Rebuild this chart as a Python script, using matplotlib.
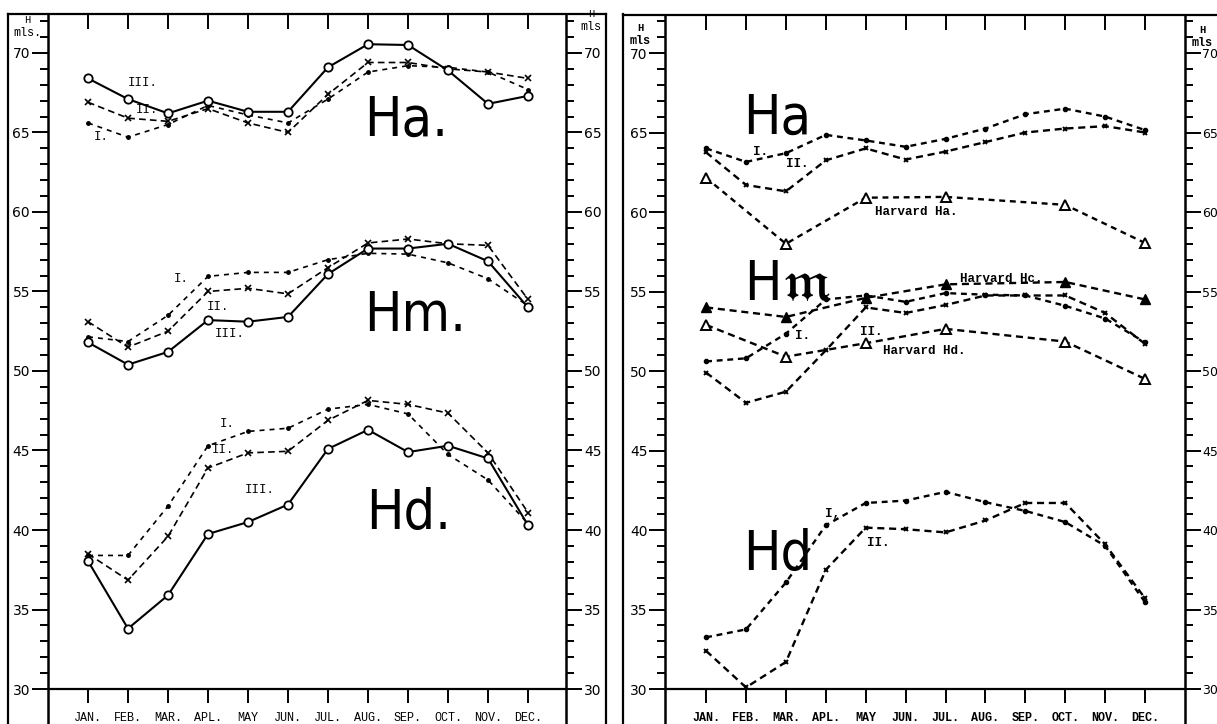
import numpy as np
import matplotlib
matplotlib.use("Agg")
import matplotlib.pyplot as plt
from matplotlib.lines import Line2D

nan = np.nan
months = ["JAN.", "FEB.", "MAR.", "APL.", "MAY", "JUN.", "JUL.", "AUG.", "SEP.", "OCT.", "NOV.", "DEC."]

# left chart: three series (I, II, III) for Ha, Hm, Hd
ha_I = [65.6, 64.7, 65.5, 66.7, 66.1, 65.6, 67.1, 68.8, 69.2, 69.1, 68.8, 67.7]
ha_II = [66.9, 65.9, 65.7, 66.5, 65.6, 65.0, 67.4, 69.4, 69.4, 69.0, 68.8, 68.4]
ha_III = [68.4, 67.1, 66.2, 67.0, 66.3, 66.3, 69.1, 70.55, 70.5, 68.9, 66.8, 67.3]

hm_I = [52.15, 51.85, 53.5, 55.95, 56.2, 56.2, 57.0, 57.4, 57.35, 56.8, 55.8, 54.1]
hm_II = [53.1, 51.5, 52.5, 55.0, 55.2, 54.85, 56.5, 58.05, 58.3, 58.0, 57.9, 54.5]
hm_III = [51.8, 50.4, 51.2, 53.2, 53.1, 53.4, 56.1, 57.7, 57.7, 58.0, 56.9, 54.0]

hd_I = [38.4, 38.4, 41.5, 45.3, 46.2, 46.4, 47.6, 47.9, 47.3, 44.75, 43.15, 40.4]
hd_II = [38.5, 36.85, 39.6, 43.9, 44.85, 44.95, 46.9, 48.15, 47.9, 47.35, 44.85, 41.1]
hd_III = [38.05, 33.8, 35.9, 39.75, 40.5, 41.6, 45.1, 46.3, 44.9, 45.3, 44.5, 40.3]

# right chart: I, II and Harvard values
ha_I_r = [64.0, 63.15, 63.7, 64.85, 64.5, 64.1, 64.6, 65.25, 66.15, 66.5, 66.0, 65.15]
ha_II_r = [63.75, 61.7, 61.3, 63.25, 64.0, 63.3, 63.8, 64.4, 65.0, 65.25, 65.4, 65.0]
harvard_ha = [62.15, nan, 58.0, nan, 60.9, nan, 60.95, nan, nan, 60.45, nan, 58.05]

hm_I_r = [50.6, 50.8, 52.35, 54.5, 54.75, 54.35, 54.9, 54.8, 54.75, 54.1, 53.3, 51.8]
hm_II_r = [49.9, 48.0, 48.7, 51.3, 54.0, 53.65, 54.15, 54.75, 54.75, 54.75, 53.65, 51.7]
harvard_hc = [54.0, nan, 53.4, nan, 54.6, nan, 55.45, nan, nan, 55.6, nan, 54.5]
harvard_hd = [52.9, nan, 50.9, nan, 51.75, nan, 52.65, nan, nan, 51.85, nan, 49.5]

hd_I_r = [33.25, 33.75, 36.7, 40.3, 41.7, 41.85, 42.4, 41.75, 41.2, 40.5, 39.0, 35.45]
hd_II_r = [32.4, 30.1, 31.7, 37.5, 40.15, 40.05, 39.85, 40.6, 41.7, 41.7, 39.1, 35.7]

MONO = ["Liberation Mono", "DejaVu Sans Mono"]
BIG = ["DejaVu Sans"]

W, H = 1217, 724
fig = plt.figure(figsize=(W / 100, H / 100), dpi=100)


def fx(px):
    return px / W


def fy(py):
    return 1 - py / H


x = np.arange(12)


def plot_series(ax, vals, **kw):
    v = np.array(vals, dtype=float)
    m = ~np.isnan(v)
    ax.plot(x[m], v[m], color="black", **kw)


def setup(ax, xlim, ytop, weight):
    ax.set_xlim(*xlim)
    ax.set_ylim(27.8, ytop)
    for s in ["top", "bottom"]:
        ax.spines[s].set_visible(False)
    for s in ["left", "right"]:
        ax.spines[s].set_linewidth(1.8)
    ax.set_yticks(np.arange(30, 71, 5))
    ax.set_yticks(np.arange(30, 73, 1), minor=True)
    ax.tick_params(axis="y", which="both", direction="out", left=True, right=True,
                   labelleft=True, labelright=True, width=1.4, labelsize=10, pad=1.5)
    ax.tick_params(axis="y", which="major", length=11.5)
    ax.tick_params(axis="y", which="minor", length=5.8)
    ax.set_xticks(x)
    ax.tick_params(axis="x", top=True, bottom=False, direction="in", length=11,
                   width=1.4, labeltop=False, labelbottom=False)
    ax.axhline(30, color="black", lw=1.6)
    ax.vlines(x, 30 - 0.85, 30, color="black", lw=1.4)
    for i, m in enumerate(months):
        ax.text(i, 28.15, m, ha="center", va="center", fontsize=8.5,
                family=MONO, fontweight=weight)


# ---------------- left chart
axL = fig.add_axes([fx(48), 0, fx(566) - fx(48), fy(14)])
setup(axL, (-1.0, 11.95), 72.45, "normal")

for I, II, III in [(ha_I, ha_II, ha_III), (hm_I, hm_II, hm_III), (hd_I, hd_II, hd_III)]:
    plot_series(axL, I, lw=1.2, ls=(0, (3, 3)), marker=".", ms=5)
    plot_series(axL, II, lw=1.2, ls=(0, (4, 2.5)), marker="x", ms=4, mew=1.2)
    plot_series(axL, III, lw=1.5, marker="o", ms=6, mfc="white", mew=1.3)

small_left = [("III.", 1.0, 68.1), ("II.", 1.2, 66.4), ("I.", 0.15, 64.7),
              ("I.", 2.15, 55.8), ("II.", 2.97, 54.0), ("III.", 3.16, 52.3),
              ("I.", 3.3, 46.65), ("II.", 3.1, 45.0), ("III.", 3.93, 42.5)]
for t, tx, ty in small_left:
    axL.text(tx, ty, t, ha="left", va="center", fontsize=9, family=MONO)

for t, tx, ty in [("Ha.", 6.9, 64.8), ("Hm.", 6.9, 52.5), ("Hd.", 6.96, 40.05)]:
    axL.text(tx, ty, t, ha="left", va="baseline", fontsize=40, family=BIG,
             fontstretch="condensed")

# ---------------- right chart
axR = fig.add_axes([fx(665), 0, fx(1185) - fx(665), fy(15)])
setup(axR, (-1.03, 12.0), 72.39, "bold")
# right-hand labels sit at the very edge of the sheet
for tk in axR.yaxis.get_major_ticks():
    tk.label2.set_fontsize(9)
axR.tick_params(axis="y", which="major", pad=1)

for I, II in [(ha_I_r, ha_II_r), (hm_I_r, hm_II_r), (hd_I_r, hd_II_r)]:
    plot_series(axR, I, lw=1.7, ls=(0, (2.5, 2)), marker=".", ms=6)
    plot_series(axR, II, lw=1.7, ls=(0, (3, 2)), marker="x", ms=3.5, mew=1.4)
plot_series(axR, harvard_ha, lw=1.7, ls=(0, (2.5, 2)), marker="^", ms=7, mfc="white", mew=1.4)
plot_series(axR, harvard_hd, lw=1.7, ls=(0, (3, 2)), marker="^", ms=7, mfc="white", mew=1.4)
plot_series(axR, harvard_hc, lw=1.7, ls=(0, (3, 2)), marker="^", ms=7)

small_right = [("I.", 1.18, 63.8), ("II.", 2.0, 63.05), ("Harvard Ha.", 4.23, 60.0),
               ("Harvard Hc.", 6.37, 55.8), ("I.", 2.23, 52.2), ("II.", 3.85, 52.45),
               ("Harvard Hd.", 4.43, 51.25), ("I,", 2.97, 41.0), ("II.", 4.04, 39.2)]
for t, tx, ty in small_right:
    axR.text(tx, ty, t, ha="left", va="center", fontsize=9, family=MONO, fontweight="bold")

for t, tx, ty in [("Ha", 0.94, 64.9), (r"H$\mathfrak{m}$", 0.94, 54.45), ("Hd", 0.94, 37.5)]:
    axR.text(tx, ty, t, ha="left", va="baseline", fontsize=40, family=BIG,
             fontstretch="condensed")

# ---------------- frames and corner units
frame = dict(color="black", lw=1.6)
fig.add_artist(Line2D([fx(8), fx(606)], [fy(14), fy(14)], **frame))
fig.add_artist(Line2D([fx(623), 1], [fy(15), fy(15)], **frame))
for px in [8, 606, 623]:
    fig.add_artist(Line2D([fx(px), fx(px)], [fy(14), 0], **frame))

for px, py, w in [(27, 33, "normal"), (591, 27, "normal"), (640, 41, "bold"), (1202, 43, "bold")]:
    unit = "mls." if px == 27 else "mls"
    fig.text(fx(px), fy(py), unit, ha="center", va="center", fontsize=8.5, family=MONO, fontweight=w)
    fig.text(fx(px), fy(py - 13), "H", ha="center", va="center", fontsize=7.5, family=MONO, fontweight=w)

fig.savefig("out.png", dpi=100)
